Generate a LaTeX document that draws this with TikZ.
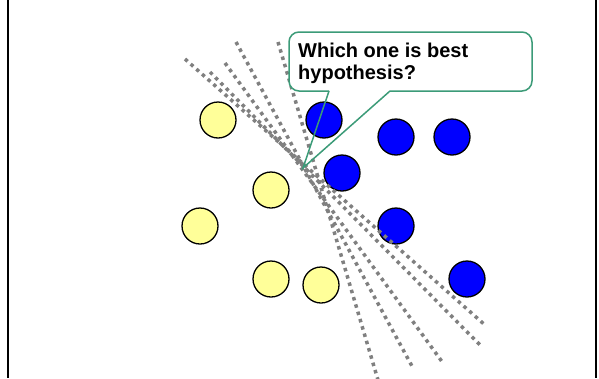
\documentclass[tikz,border=0pt]{standalone}
\usepackage{fontspec}
\setmainfont{Liberation Sans}
\definecolor{posblue}{RGB}{0,0,255}
\definecolor{negyellow}{RGB}{255,255,153}
\definecolor{hypgray}{RGB}{128,128,128}
\definecolor{calloutgreen}{RGB}{60,155,120}
\begin{document}
\begin{tikzpicture}[x=1pt,y=-1pt,
  posdot/.style={circle,draw=black,line width=1.3pt,fill=posblue,minimum size=36pt,inner sep=0pt},
  negdot/.style={circle,draw=black,line width=1.3pt,fill=negyellow,minimum size=36pt,inner sep=0pt},
  hypline/.style={draw=hypgray,line width=3.5pt,dash pattern=on 3.5pt off 4.1pt},
  calloutline/.style={draw=calloutgreen,line width=1.5pt},
  frameline/.style={draw=black,line width=2.2pt}]
\useasboundingbox (0,0) rectangle (599,378);
% frame sides
\draw[frameline] (8,0) -- (8,378);
\draw[frameline] (596,0) -- (596,378);
% data points
\node[negdot] (n1) at (218,120) {};
\node[negdot] (n2) at (271,190) {};
\node[negdot] (n3) at (200,226) {};
\node[negdot] (n4) at (271,279) {};
\node[negdot] (n5) at (321,285) {};
\node[posdot] (p1) at (324,120) {};
\node[posdot] (p2) at (396,137) {};
\node[posdot] (p3) at (452,137) {};
\node[posdot] (p4) at (342,173) {};
\node[posdot] (p5) at (396,226) {};
\node[posdot] (p6) at (467,279) {};
% hypotheses
\draw[hypline] (185,59) -- (485,325);
\draw[hypline] (210,72) -- (482,347);
\draw[hypline] (225,63) -- (443,363);
\draw[hypline] (236,42) -- (413,368);
\draw[hypline] (278,42) -- (378,380);
% callout
\fill[white,rounded corners=10pt] (289,32) rectangle (532,91);
\coordinate (tip) at (303,168);
\draw[calloutline,rounded corners=10pt] (329,91) -- (289,91) -- (289,32) -- (532,32) -- (532,91) -- (390,91);
\draw[calloutline,line join=miter] (390,91) -- (tip) -- (329,91);
\node[anchor=north west,inner sep=0pt,align=left,font=\bfseries\fontsize{20}{22}\selectfont] (q) at (298,42.5) {Which one is best\\hypothesis?};
\end{tikzpicture}
\end{document}
